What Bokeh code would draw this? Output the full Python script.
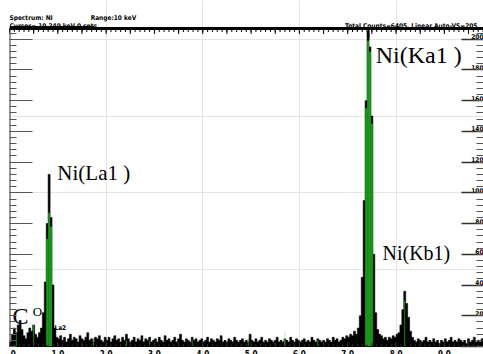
import numpy as np
from bokeh.plotting import figure
from bokeh.models import Range1d, LinearAxis, FixedTicker
from bokeh.core.properties import value
from bokeh.embed import file_html
from bokeh.resources import INLINE

# ---------------- data ----------------
channel_kev = 0.04
counts = [
    3, 8, 12, 9, 14, 17, 11, 7, 5, 9, 12, 10, 14, 8, 6, 9, 12, 22, 42, 80, 112, 84, 40, 12, 6,
    5, 7, 4, 6, 3, 5, 8, 4, 6, 5, 3, 7, 5, 4, 6, 9, 4, 5, 3, 6, 5, 7, 4, 3, 6,
    4, 6, 3, 5, 7, 4, 5, 3, 6, 4, 8, 5, 3, 4, 6, 3, 5, 4, 7, 3, 5, 4, 6, 3, 4,
    5, 3, 6, 4, 3, 7, 4, 5, 3, 4, 6, 3, 5, 8, 4, 3, 5, 4, 3, 6, 4, 5, 3, 4, 5,
    3, 4, 6, 3, 5, 4, 3, 5, 4, 7, 3, 4, 3, 5, 4, 3, 6, 4, 3, 4, 5, 3, 4, 3, 8,
    4, 3, 5, 3, 4, 6, 3, 4, 3, 5, 4, 3, 4, 6, 3, 4, 3, 5, 4, 3, 6, 4, 3, 5, 4,
    3, 4, 5, 3, 4, 3, 6, 4, 3, 5, 4, 3, 4, 3, 5, 4, 3, 6, 4, 5, 3, 4, 6, 5, 7,
    6, 8, 7, 10, 8, 12, 20, 45, 95, 160, 205, 195, 150, 60, 22, 11, 8, 7, 5, 6, 4, 6, 5, 7, 6,
    8, 9, 14, 24, 36, 28, 19, 10, 6, 4, 3, 5, 4, 3, 4, 6, 3, 4, 3, 5, 3, 4, 2, 4, 3,
    5, 3, 4, 6, 3, 4, 3, 5, 4, 3, 4, 2, 5, 3, 4, 6, 3, 4, 3, 5, 4,
]
# green region-of-interest fill inside the main peaks
roi_channels = [19, 20, 21, 184, 185, 186, 187]
roi_counts = [70, 87, 78, 155, 199, 192, 145]
# thin green marker lines
line_channels = [3, 12, 43, 60, 72, 94, 123, 159, 204]
line_counts = [9, 14, 5, 4, 4, 4, 5, 4, 30]
marker_kev = [5.70]
marker_counts = [10]
cursor_kev = 7.43

y_ticks = [0, 20, 40, 60, 80, 100, 120, 140, 160, 180, 200]
y_tick_labels = ["0", "20", "40", "60", "80", "100", "120", "140", "160", "180", "200"]
x_ticks = [0, 1, 2, 3, 4, 5, 6, 7, 8, 9]
x_tick_labels = ["0.0", "1.0", "2.0", "3.0", "4.0", "5.0", "6.0", "7.0", "8.0", "9.0"]

peak_names = ["Ni(La1 )", "Ni(Ka1 )", "Ni(Kb1)"]
peak_kev = [0.99, 7.58, 7.72]
peak_counts = [113, 190, 61]
peak_sizes = ["21px", "24px", "20px"]

header_left1 = "Spectrum: NI"
header_range = "Range:10  keV"
header_cursor = "Cursor= 10.240  keV 0  cnts"
header_right = "Total Counts=6405,  Linear   Auto-VS=205"

# ---------------- figure ----------------
XMAX = 9.81
VS = 207            # top of the count scale (ruler line)
YMIN, YMAX = -5.2, 225.2
p = figure(width=483, height=354, x_range=Range1d(0, XMAX), y_range=Range1d(YMIN, YMAX),
           output_backend="svg", toolbar_location=None,
           x_axis_location=None, y_axis_location=None,
           min_border_left=9, min_border_right=0, min_border_top=0, min_border_bottom=0)
p.outline_line_color = None
p.background_fill_color = "white"
p.border_fill_color = "white"

# spectrum as a filled step outline
edges = np.arange(len(counts) + 1) * channel_kev
cx = np.repeat(edges, 2)[1:-1]
cy = np.repeat(np.array(counts, dtype=float), 2)
px = np.concatenate([[edges[0]], cx, [edges[-1]]])
py = np.concatenate([[0], cy, [0]])
p.patch(x=px, y=py, fill_color="black", line_color="black", line_width=0.6)

roi_x = [channel_kev * c + channel_kev / 2 for c in roi_channels]
p.vbar(x=roi_x, top=roi_counts, width=channel_kev, fill_color="#179a17", line_color=None)
line_x = [channel_kev * c + channel_kev / 2 for c in line_channels]
p.vbar(x=line_x, top=line_counts, width=0.018, fill_color="#179a17", line_color=None)
p.vbar(x=marker_kev, top=marker_counts, width=0.014, fill_color="#9fe39f", line_color=None)

# left and right count ticks
minor_y = list(range(0, 208, 4))
left = LinearAxis(ticker=FixedTicker(ticks=y_ticks[2:], minor_ticks=minor_y))
left.major_tick_in = 23
left.major_tick_out = 0
left.minor_tick_in = 7
left.minor_tick_out = 0
left.major_tick_line_color = "#555555"
left.minor_tick_line_color = "#555555"
left.major_label_overrides = {t: "" for t in y_ticks[2:]}
left.major_label_standoff = 0
left.axis_line_color = None
p.add_layout(left, "left")

right = LinearAxis(ticker=FixedTicker(ticks=y_ticks, minor_ticks=minor_y))
right.major_tick_in = 22
right.major_tick_out = 0
right.minor_tick_in = 7
right.minor_tick_out = 0
right.major_tick_line_width = 1.5
right.major_tick_line_color = "#333333"
right.minor_tick_line_color = "#555555"
right.major_label_overrides = {t: "" for t in y_ticks}
right.major_label_standoff = 0
right.axis_line_color = None
p.add_layout(right, "right")

# frame lines: left count axis, top ruler, bottom energy axis
p.segment(x0=[0], y0=[0], x1=[0], y1=[VS], line_color="#333333", line_width=2)
p.segment(x0=[0], y0=[VS], x1=[XMAX], y1=[VS], line_color="black", line_width=3)
p.segment(x0=[0], y0=[0], x1=[XMAX], y1=[0], line_color="black", line_width=1)

minor_x = [round(0.1 * i, 2) for i in range(0, 99)]
major_x = [round(0.5 * i, 2) for i in range(0, 20)]
p.segment(x0=minor_x, y0=[VS] * len(minor_x), x1=minor_x, y1=[VS - 2.3] * len(minor_x),
          line_color="black", line_width=1)
p.segment(x0=major_x, y0=[VS] * len(major_x), x1=major_x, y1=[VS - 3.6] * len(major_x),
          line_color="black", line_width=1)
p.segment(x0=minor_x, y0=[0] * len(minor_x), x1=minor_x, y1=[1.4] * len(minor_x),
          line_color="#333333", line_width=1)
p.segment(x0=major_x, y0=[0] * len(major_x), x1=major_x, y1=[2.8] * len(major_x),
          line_color="#333333", line_width=1)

# cursor marker on the top ruler
p.segment(x0=[cursor_kev], y0=[VS], x1=[cursor_kev], y1=[VS - 7], line_color="black", line_width=2)

FONT = "Liberation Sans Narrow, DejaVu Sans Condensed, sans-serif"

# right-side count labels (sit just above their tick lines)
p.text(x=[XMAX] * len(y_ticks), y=y_ticks, text=y_tick_labels, text_align="right",
       text_baseline="bottom", text_font=value(FONT), text_font_style="bold",
       text_font_size="6.5px", text_color="black")

# bottom energy labels, cut off by the page bottom as in the reference
p.text(x=x_ticks, y=[-2.0] * len(x_ticks), text=x_tick_labels, text_align="center",
       text_baseline="top", text_font=value(FONT), text_font_style="bold",
       text_font_size="8px", text_color="black")

# peak annotations
for name, xk, yc, fs in zip(peak_names, peak_kev, peak_counts, peak_sizes):
    p.text(x=[xk], y=[yc], text=[name], text_font=value("Liberation Serif"),
           text_font_size=fs, text_baseline="alphabetic", text_align="left", text_color="black")
p.text(x=[0.06], y=[20], text=["C"], text_font=value("Liberation Serif"), text_font_size="24px",
       text_baseline="alphabetic", text_color="black")
p.text(x=[0.48], y=[23], text=["O"], text_font=value("Liberation Serif"), text_font_size="13px",
       text_baseline="alphabetic", text_color="black")
p.text(x=[0.93], y=[12], text=["La2"], text_font=value(FONT), text_font_style="bold",
       text_font_size="6.5px", text_baseline="alphabetic", text_color="black")

# header texts
hdr_kw = dict(text_font=value(FONT), text_font_style="bold", text_font_size="6.5px",
              text_baseline="alphabetic", text_color="black")
p.text(x=[0.0], y=[214.1], text=[header_left1], text_align="left", **hdr_kw)
p.text(x=[1.68], y=[214.1], text=[header_range], text_align="left", **hdr_kw)
p.text(x=[0.0], y=[208.9], text=[header_cursor], text_align="left", **hdr_kw)
p.text(x=[XMAX], y=[208.9], text=[header_right], text_align="right", **hdr_kw)
# underline of the cursor read-out
p.segment(x0=[0.0], y0=[208.3], x1=[1.75], y1=[208.3], line_color="black", line_width=1)

open("out.html", "w").write(file_html(p, INLINE))
